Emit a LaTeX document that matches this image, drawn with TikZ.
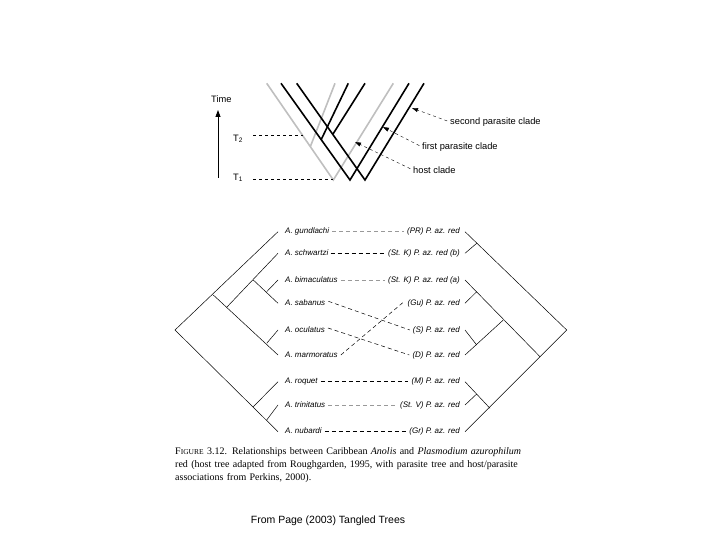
\documentclass[tikz,border=0pt]{standalone}
\usepackage{fontspec}
\setmainfont{Liberation Serif}
\setsansfont{Liberation Sans}
\usetikzlibrary{arrows.meta}
\begin{document}
\begin{tikzpicture}[x=1pt,y=-1pt,
  tree/.style={line width=0.5pt},
  hostl/.style={line width=1.6pt,black!25},
  parl/.style={line width=1.6pt,black},
  lab/.style={font=\sffamily\itshape\fontsize{8}{9}\selectfont,inner sep=0pt,text height=5.8pt,text depth=1.6pt},
  small/.style={font=\sffamily\fontsize{9.3}{10}\selectfont,inner sep=0pt},
  conn/.style={dash pattern=on 4pt off 3pt,line width=0.5pt},
  pt/.style={dashed,line width=0.4pt,shorten <=3pt,-{Triangle[length=6pt,width=4pt]}}]
\useasboundingbox (0,0) rectangle (720,540);
% ---------- top diagram ----------
\coordinate (ga) at (333.3,180); \coordinate (gl) at (266.7,83.3); \coordinate (gr) at (393.3,83.3);
\coordinate (gb) at (335,83.3); \coordinate (gbj) at (310.3,146.7);
\draw[hostl] (gl)--(ga)--(gr); \draw[hostl] (gb)--(gbj);
\coordinate (aa) at (350,180); \coordinate (al) at (281,83.3); \coordinate (ar) at (409,83.3);
\coordinate (ba) at (365,180); \coordinate (bl) at (296.7,83.3); \coordinate (br) at (424,83.3);
\draw[parl] (al)--(aa)--(ar); \draw[parl] (bl)--(ba)--(br);
\coordinate (b1) at (348.3,83.3); \coordinate (b1j) at (321,140);
\coordinate (b2) at (365,83.3); \coordinate (b2j) at (333,134);
\draw[parl] (b1)--(b1j); \draw[parl] (b2)--(b2j);
\coordinate (tb) at (218,178); \coordinate (tt) at (218,110);
\draw[line width=0.8pt,-{Triangle[length=7pt,width=5pt]}] (tb)--(tt);
\node[small,anchor=west] (time) at (211,99) {Time};
\node[small,anchor=west] (t2) at (233,139) {T\textsubscript{2}};
\node[small,anchor=west] (t1) at (233,178) {T\textsubscript{1}};
\coordinate (t2e) at (303,135); \coordinate (t1e) at (333,179);
\draw[dashed,line width=0.4pt] (253,135) -- (t2e);
\draw[dashed,line width=0.4pt] (253,179) -- (t1e);
\node[small,anchor=west] (sp) at (450,122) {second parasite clade};
\node[small,anchor=west] (fp) at (422,147) {first parasite clade};
\node[small,anchor=west] (hc) at (413,170) {host clade};
\coordinate (spt) at (412,108); \coordinate (fpt) at (383,127); \coordinate (hct) at (355,142);
\draw[pt] (sp.west)--(spt); \draw[pt] (fp.west)--(fpt); \draw[pt] (hc.west)--(hct);
% ---------- tanglegram labels ----------
\foreach \n/\y/\t in {L1/231.7/gundlachi,L2/253.3/schwartzi,L3/280/bimaculatus,L4/303.3/sabanus,L5/330/oculatus,L6/355/marmoratus,L7/381.7/roquet,L8/405/trinitatus,L9/431.7/nubardi}
  {\node[lab,anchor=west] (\n) at (285,\y) {A. \t}; \coordinate (\n t) at (278,\y);}
\foreach \n/\y/\t in {R1/231.7/(PR) P. az. red,R2/253.3/(St. K) P. az. red (b),R3/280/(St. K) P. az. red (a),R4/303.3/(Gu) P. az. red,R5/330/(S) P. az. red,R6/355/(D) P. az. red,R7/381.7/(M) P. az. red,R8/405/(St. V) P. az. red,R9/431.7/(Gr) P. az. red}
  {\node[lab,anchor=east] (\n) at (460,\y) {\t}; \coordinate (\n t) at (465,\y);}
\draw[conn,black!40] ([xshift=3pt]L1.east)--([xshift=-3pt]R1.west);
\draw[conn] ([xshift=2pt]L2.east)--([xshift=-3pt]R2.west);
\draw[conn,black!40] ([xshift=3pt]L3.east)--([xshift=-3pt]R3.west);
\draw[conn] ([xshift=3pt]L7.east)--([xshift=-3pt]R7.west);
\draw[conn,black!40] ([xshift=3pt]L8.east)--([xshift=-3pt]R8.west);
\draw[conn] ([xshift=3pt]L9.east)--([xshift=-3pt]R9.west);
\draw[conn] ([xshift=3pt,yshift=2pt]L4.east)--([xshift=-3pt]R5.west);
\draw[conn] ([xshift=3pt,yshift=2pt]L5.east)--([xshift=-3pt]R6.west);
\draw[conn] ([xshift=3pt]L6.east)--([xshift=-3pt,yshift=2pt]R4.west);
% ---------- left host tree ----------
\coordinate (LR) at (175,330); \coordinate (LA) at (213.3,295); \coordinate (LB) at (226.7,307.3);
\coordinate (LC) at (253.3,280); \coordinate (LD) at (266.7,291.7); \coordinate (LE) at (266.7,343.3);
\coordinate (LF) at (253.3,406.7); \coordinate (LG) at (266.7,420);
\draw[tree] (L1t)--(LR)--(L9t);
\draw[tree] (LA)--(L6t); \draw[tree] (LB)--(L2t); \draw[tree] (LC)--(L4t);
\draw[tree] (LD)--(L3t); \draw[tree] (LE)--(L5t);
\draw[tree] (LF)--(L7t); \draw[tree] (LG)--(L8t);
% ---------- right parasite tree ----------
\coordinate (RR) at (566.7,330); \coordinate (RA) at (476.7,243.3); \coordinate (RB) at (540,356.7);
\coordinate (RC) at (503.3,320); \coordinate (RD) at (476.7,291.7); \coordinate (RE) at (476.7,345);
\coordinate (RF) at (490,408.3); \coordinate (RG) at (476.7,394);
\draw[tree] (R1t)--(RR)--(R9t);
\draw[tree] (RA)--(R2t); \draw[tree] (RB)--(R3t); \draw[tree] (RD)--(R4t);
\draw[tree] (RC)--(R6t); \draw[tree] (RE)--(R5t);
\draw[tree] (RF)--(R7t); \draw[tree] (RG)--(R8t);
% ---------- caption ----------
\node[anchor=north west,inner sep=0pt,align=left,font=\fontsize{10}{13.3}\selectfont,text width=420pt] (cap) at (175,447)
 {F{\fontsize{7.5}{8}\selectfont IGURE} 3.12. Relationships between Caribbean \textit{Anolis} and \textit{Plasmodium azurophilum}\\
 red (host tree adapted from Roughgarden, 1995, with parasite tree and host/parasite\\
 associations from Perkins, 2000).};
\node[font=\sffamily\fontsize{10.5}{12}\selectfont,inner sep=0pt] (src) at (328,521) {From Page (2003) Tangled Trees};
\end{tikzpicture}
\end{document}
